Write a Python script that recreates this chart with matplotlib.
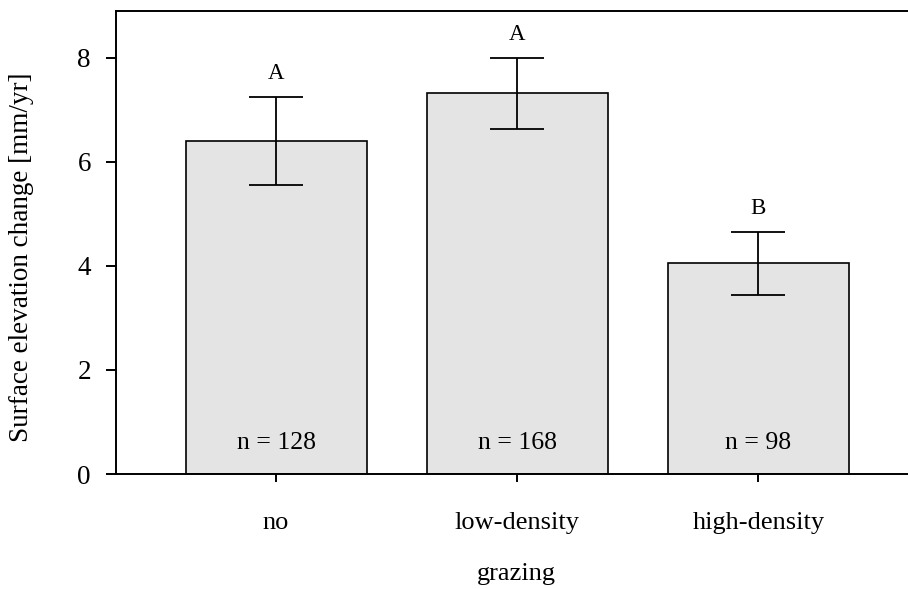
import matplotlib
matplotlib.use("Agg")
import matplotlib.pyplot as plt
import numpy as np

categories = ["no", "low-density", "high-density"]
means = [6.40, 7.32, 4.05]
errors = [0.84, 0.68, 0.60]
letters = ["A", "A", "B"]
n_labels = ["n = 128", "n = 168", "n = 98"]

plt.rcParams['font.family'] = ['Liberation Serif', 'DejaVu Serif']
fig = plt.figure(figsize=(9.08, 5.89), dpi=100)
ax = fig.add_axes([116/908, 115/589, 1 - 116/908, (474 - 11)/589])

x = np.arange(len(categories))
ax.bar(x, means, width=0.75, color="#e4e4e4", edgecolor="black", linewidth=1.2, zorder=2)
ax.errorbar(x, means, yerr=errors, fmt="none", ecolor="black", elinewidth=1.3,
            capsize=19.5, capthick=1.3, zorder=3)

for xi, m, e, l in zip(x, means, errors, letters):
    ax.text(xi, m + e + 0.45, l, ha="center", va="center", fontsize=16.5)
for xi, t in zip(x, n_labels):
    ax.text(xi, 0.6, t, ha="center", va="center", fontsize=18.5)

ax.set_xlim(-0.664, 2.62)
ax.set_ylim(0, 8.9)
ax.set_yticks([0, 2, 4, 6, 8])
ax.set_xticks(x)
ax.set_xticklabels(categories)
ax.tick_params(axis="y", direction="out", length=7, width=1.4, pad=11, labelsize=19.5)
ax.tick_params(axis="x", direction="out", length=5.5, width=1.4, pad=22, labelsize=19)
ax.spines["right"].set_visible(False)
for s in ["left", "top", "bottom"]:
    ax.spines[s].set_linewidth(1.4)

ax.set_ylabel("Surface elevation change [mm/yr]", fontsize=19.5)
ax.yaxis.set_label_coords(-0.1035, 0.469)
ax.set_xlabel("grazing", fontsize=19)
ax.xaxis.set_label_coords(0.505, -0.192)

fig.savefig("out.png", dpi=100)
